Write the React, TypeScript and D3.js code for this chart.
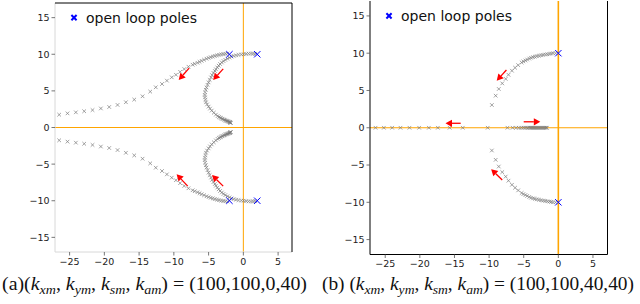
import React from "react";
import * as d3 from "d3";

// tick values shared by both panels
const xTicks = [-25, -20, -15, -10, -5, 0, 5];
const yTicks = [-15, -10, -5, 0, 5, 10, 15];

// (a) open loop poles
const polesA: [number, number][] = [[-2, 10], [2, 10], [-2, -10], [2, -10]];

// (a) branch leaving the pole at -2+10j
const outerUpA: [number, number][] = [
  [-2.3, 10.1], [-2.6, 10.07], [-2.9, 10.03], [-3.2, 9.98], [-3.5, 9.92], [-3.8, 9.85], [-4.1, 9.77],
  [-4.4, 9.69], [-4.7, 9.6], [-5.0, 9.5], [-5.3, 9.39], [-5.65, 9.25], [-6.0, 9.1], [-6.3, 8.97],
  [-6.6, 8.84], [-7.0, 8.7], [-7.3, 8.57], [-7.9, 8.3], [-8.5, 7.98], [-9.1, 7.6], [-9.7, 7.2],
  [-10.3, 6.85], [-11.0, 6.4], [-11.7, 5.94], [-12.6, 5.49], [-13.4, 4.9], [-14.5, 4.26],
  [-15.7, 3.81], [-16.9, 3.45], [-18.1, 3.08], [-19.3, 2.8], [-20.5, 2.6], [-21.7, 2.38],
  [-22.9, 2.22], [-24.1, 2.07], [-25.3, 1.93], [-26.5, 1.75],
];
const outerLoA: [number, number][] = [
  [-2.3, -10.1], [-2.6, -10.07], [-2.9, -10.03], [-3.2, -9.98], [-3.5, -9.92], [-3.8, -9.85], [-4.1, -9.77],
  [-4.4, -9.69], [-4.7, -9.6], [-5.0, -9.5], [-5.3, -9.39], [-5.65, -9.25], [-6.0, -9.1], [-6.3, -8.97],
  [-6.6, -8.84], [-7.0, -8.7], [-7.3, -8.57], [-7.9, -8.3], [-8.5, -7.98], [-9.1, -7.6], [-9.7, -7.2],
  [-10.3, -6.85], [-11.0, -6.4], [-11.7, -5.94], [-12.6, -5.49], [-13.4, -4.9], [-14.5, -4.26],
  [-15.7, -3.81], [-16.9, -3.45], [-18.1, -3.08], [-19.3, -2.8], [-20.5, -2.6], [-21.7, -2.38],
  [-22.9, -2.22], [-24.1, -2.07], [-25.3, -1.93], [-26.5, -1.75],
];

// (a) branch leaving the pole at 2+10j
const innerUpA: [number, number][] = [
  [1.7, 10.05], [1.4, 10.08], [1.1, 10.1], [0.75, 10.08], [0.4, 10.05], [0.05, 10.0], [-0.3, 9.97],
  [-0.7, 9.92], [-1.05, 9.86], [-1.4, 9.78], [-1.7, 9.68], [-2.0, 9.55], [-2.3, 9.4], [-2.6, 9.24],
  [-2.85, 9.07], [-3.1, 8.88], [-3.35, 8.67], [-3.55, 8.44], [-3.75, 8.2], [-3.95, 7.95], [-4.1, 7.72],
  [-4.3, 7.45], [-4.5, 7.15], [-4.65, 6.84], [-4.85, 6.5], [-5.0, 6.16], [-5.15, 5.82], [-5.3, 5.48],
  [-5.4, 5.15], [-5.5, 4.8], [-5.55, 4.45], [-5.52, 4.12], [-5.45, 3.78], [-5.38, 3.44], [-5.22, 3.15],
  [-5.0, 2.85], [-4.8, 2.58], [-4.55, 2.31], [-4.25, 2.02], [-3.95, 1.76], [-3.7, 1.56], [-3.5, 1.44],
  [-3.35, 1.35], [-3.2, 1.27], [-3.05, 1.2], [-2.9, 1.13], [-2.75, 1.06], [-2.6, 1.0], [-2.5, 0.95],
  [-2.4, 0.91], [-2.3, 0.87], [-2.2, 0.83], [-2.1, 0.79], [-2.0, 0.75], [-1.95, 0.72], [-1.9, 0.69],
  [-1.85, 0.66], [-1.8, 0.63],
];
const innerLoA: [number, number][] = [
  [1.7, -10.05], [1.4, -10.08], [1.1, -10.1], [0.75, -10.08], [0.4, -10.05], [0.05, -10.0], [-0.3, -9.97],
  [-0.7, -9.92], [-1.05, -9.86], [-1.4, -9.78], [-1.7, -9.68], [-2.0, -9.55], [-2.3, -9.4], [-2.6, -9.24],
  [-2.85, -9.07], [-3.1, -8.88], [-3.35, -8.67], [-3.55, -8.44], [-3.75, -8.2], [-3.95, -7.95], [-4.1, -7.72],
  [-4.3, -7.45], [-4.5, -7.15], [-4.65, -6.84], [-4.85, -6.5], [-5.0, -6.16], [-5.15, -5.82], [-5.3, -5.48],
  [-5.4, -5.15], [-5.5, -4.8], [-5.55, -4.45], [-5.52, -4.12], [-5.45, -3.78], [-5.38, -3.44], [-5.22, -3.15],
  [-5.0, -2.85], [-4.8, -2.58], [-4.55, -2.31], [-4.25, -2.02], [-3.95, -1.76], [-3.7, -1.56], [-3.5, -1.44],
  [-3.35, -1.35], [-3.2, -1.27], [-3.05, -1.2], [-2.9, -1.13], [-2.75, -1.06], [-2.6, -1.0], [-2.5, -0.95],
  [-2.4, -0.91], [-2.3, -0.87], [-2.2, -0.83], [-2.1, -0.79], [-2.0, -0.75], [-1.95, -0.72], [-1.9, -0.69],
  [-1.85, -0.66], [-1.8, -0.63],
];

// (a) arrows: x0, y0, x1, y1
const arrowsA: [number, number, number, number][] = [
  [-7.8, 8.1, -9.3, 6.5],
  [-2.9, 8.0, -4.35, 6.5],
  [-8.0, -8.0, -9.6, -6.4],
  [-2.9, -8.0, -4.5, -6.5],
];

// (b) open loop poles
const polesB: [number, number][] = [[0, 10], [0, -10]];

const upB: [number, number][] = [
  [-0.4, 10.0], [-0.77, 10.0], [-1.05, 9.95], [-1.3, 9.9], [-1.6, 9.86], [-1.9, 9.82], [-2.2, 9.77],
  [-2.5, 9.72], [-2.8, 9.66], [-3.1, 9.6], [-3.4, 9.54], [-3.65, 9.47], [-3.95, 9.39], [-4.2, 9.28],
  [-4.5, 9.15], [-4.75, 9.02], [-5.05, 8.9], [-5.3, 8.75], [-5.8, 8.4], [-6.25, 8.05], [-6.7, 7.65],
  [-7.2, 7.1], [-7.6, 6.55], [-8.1, 5.95], [-8.6, 5.2], [-9.05, 4.3], [-9.6, 3.05],
];
const loB: [number, number][] = [
  [-0.4, -10.0], [-0.77, -10.0], [-1.05, -9.95], [-1.3, -9.9], [-1.6, -9.86], [-1.9, -9.82], [-2.2, -9.77],
  [-2.5, -9.72], [-2.8, -9.66], [-3.1, -9.6], [-3.4, -9.54], [-3.65, -9.47], [-3.95, -9.39], [-4.2, -9.28],
  [-4.5, -9.15], [-4.75, -9.02], [-5.05, -8.9], [-5.3, -8.75], [-5.8, -8.4], [-6.25, -8.05], [-6.7, -7.65],
  [-7.2, -7.1], [-7.6, -6.55], [-8.1, -5.95], [-8.6, -5.2], [-9.05, -4.3], [-9.6, -3.05],
];
// (b) poles on the real axis
const realLeftB = [-10.2, -13.8, -15.7, -17.4, -18.7, -20.1, -21.5, -22.8, -24.0, -25.2, -26.4];
const realRightB = [
  -7.35, -6.6, -6.1, -5.7, -5.35, -5.05, -4.8, -4.55, -4.35, -4.15, -4.0, -3.85, -3.7, -3.55,
  -3.4, -3.25, -3.1, -2.95, -2.8, -2.65, -2.5, -2.35, -2.2, -2.05, -1.9, -1.75, -1.65,
];

const arrowsB: [number, number, number, number][] = [
  [-7.5, 7.75, -8.9, 6.3],
  [-14.1, 0.6, -16.3, 0.6],
  [-5.0, 0.8, -2.6, 0.8],
  [-8.1, -7.0, -9.7, -5.55],
];

const tickFont = "'DejaVu Sans', sans-serif";
const fmt = (v: number) => (v < 0 ? "\u2212" + Math.abs(v) : String(v));

type Frame = { l: number; r: number; t: number; b: number; xd: [number, number] };

function Cross({ x, y, s, color, w }: { x: number; y: number; s: number; color: string; w: number }) {
  return (
    <path
      d={`M${x - s},${y - s}L${x + s},${y + s}M${x - s},${y + s}L${x + s},${y - s}`}
      stroke={color}
      strokeWidth={w}
      fill="none"
    />
  );
}

function Arrow({ x0, y0, x1, y1 }: { x0: number; y0: number; x1: number; y1: number }) {
  const ang = Math.atan2(y1 - y0, x1 - x0);
  const hl = 6.5, hw = 3.6;
  const bx = x1 - hl * Math.cos(ang), by = y1 - hl * Math.sin(ang);
  const px = -Math.sin(ang) * hw, py = Math.cos(ang) * hw;
  return (
    <g>
      <line x1={x0} y1={y0} x2={bx} y2={by} stroke="#ff0000" strokeWidth={1.3} />
      <path d={`M${x1},${y1}L${bx + px},${by + py}L${bx - px},${by - py}Z`} fill="#ff0000" />
    </g>
  );
}

function Panel({
  f, branches, real, poles, arrows, faint,
}: {
  f: Frame;
  branches: [number, number][][];
  real: number[];
  poles: [number, number][];
  arrows: [number, number, number, number][];
  faint: boolean;
}) {
  const x = d3.scaleLinear().domain(f.xd).range([f.l, f.r]);
  const y = d3.scaleLinear().domain([-17, 17]).range([f.b, f.t]);
  const grayC = "#7a7a7a";
  return (
    <g>
      {/* zero lines */}
      <line x1={x(0)} x2={x(0)} y1={f.t} y2={f.b} stroke="#ffa500" strokeWidth={faint ? 1 : 1.6} />
      <line x1={f.l} x2={f.r} y1={y(0)} y2={y(0)} stroke="#ffa500" strokeWidth={1} />
      {/* locus */}
      {branches.map((br, i) => (
        <g key={i}>
          {br.map(([a, b], j) => (
            <Cross key={j} x={x(a)} y={y(b)} s={1.8} color={grayC} w={0.7} />
          ))}
        </g>
      ))}
      {real.map((a, j) => (
        <Cross key={"r" + j} x={x(a)} y={y(0)} s={1.8} color={grayC} w={0.7} />
      ))}
      {poles.map(([a, b], j) => (
        <Cross key={"p" + j} x={x(a)} y={y(b)} s={3.2} color="#0000ff" w={1} />
      ))}
      {arrows.map(([a, b, c, d], j) => (
        <Arrow key={"a" + j} x0={x(a)} y0={y(b)} x1={x(c)} y1={y(d)} />
      ))}
      {/* frame */}
      {faint ? (
        <g>
          <line x1={f.l} x2={f.l} y1={f.t} y2={f.b} stroke="#d8d8d8" />
          <line x1={f.l} x2={f.r} y1={f.b} y2={f.b} stroke="#d8d8d8" />
          <line x1={f.l} x2={f.r} y1={f.t} y2={f.t} stroke="#000" />
          <line x1={f.r} x2={f.r} y1={f.t} y2={f.b} stroke="#000" />
        </g>
      ) : (
        <g>
          <line x1={f.l} x2={f.l} y1={f.t} y2={f.b} stroke="#000" />
          <line x1={f.l} x2={f.r} y1={f.b} y2={f.b} stroke="#000" />
          <line x1={f.r} x2={f.r} y1={f.t} y2={f.b} stroke="#000" />
        </g>
      )}
      {/* ticks */}
      {xTicks.map((t) => (
        <g key={"x" + t}>
          <line x1={x(t)} x2={x(t)} y1={f.b} y2={f.b + 3.5} stroke="#555" strokeWidth={0.8} />
          <text x={x(t)} y={f.b + 12.5} fontSize={9.5} fontFamily={tickFont} textAnchor="middle" fill="#222">
            {fmt(t)}
          </text>
        </g>
      ))}
      {yTicks.map((t) => (
        <g key={"y" + t}>
          <line x1={f.l - 3.5} x2={f.l} y1={y(t)} y2={y(t)} stroke="#555" strokeWidth={0.8} />
          <text x={f.l - 5.5} y={y(t) + 3.4} fontSize={9.5} fontFamily={tickFont} textAnchor="end" fill="#222">
            {fmt(t)}
          </text>
        </g>
      ))}
      {/* legend */}
      <Cross x={f.l + 19} y={y(15)} s={2.6} color="#0000ff" w={2} />
      <text x={f.l + 31} y={y(15) + 5} fontSize={14} fontFamily={tickFont} fill="#111">
        open loop poles
      </text>
    </g>
  );
}

// k with subscript, followed by the punctuation back on the baseline
function K({ s, after }: { s: string; after: string }) {
  return (
    <>
      <tspan fontStyle="italic">k</tspan>
      <tspan fontStyle="italic" fontSize={13} dy={3.5}>{s}</tspan>
      <tspan dy={-3.5}>{after}</tspan>
    </>
  );
}

function Caption({ x, label, vals, width }: { x: number; label: string; vals: string; width: number }) {
  return (
    <text
      x={x}
      y={290}
      fontSize={18.5}
      fontFamily="'Liberation Serif', serif"
      fill="#111"
      textLength={width}
      lengthAdjust="spacingAndGlyphs"
    >
      <tspan>{label + "("}</tspan>
      <K s="xm" after=", " />
      <K s="ym" after=", " />
      <K s="sm" after=", " />
      <K s="am" after={") = " + vals} />
    </text>
  );
}

const frameA: Frame = { l: 55, r: 292, t: 3, b: 252, xd: [-27.1, 7] };
const frameB: Frame = { l: 370, r: 607.5, t: 1, b: 254.5, xd: [-27.2, 7.1] };

export default function App() {
  return (
    <svg width={640} height={304} style={{ position: "absolute", left: 0, top: 0, background: "#fff" }}>
      <rect width={640} height={304} fill="#fff" />
      <Panel
        f={frameA}
        branches={[outerUpA, outerLoA, innerUpA, innerLoA]}
        real={[]}
        poles={polesA}
        arrows={arrowsA}
        faint={true}
      />
      <Panel f={frameB} branches={[upB, loB]} real={[...realLeftB, ...realRightB]} poles={polesB} arrows={arrowsB} faint={false} />
      <Caption x={2} label="(a)" vals="(100,100,0,40)" width={305} />
      <Caption x={322} label="(b) " vals="(100,100,40,40)" width={312} />
    </svg>
  );
}
